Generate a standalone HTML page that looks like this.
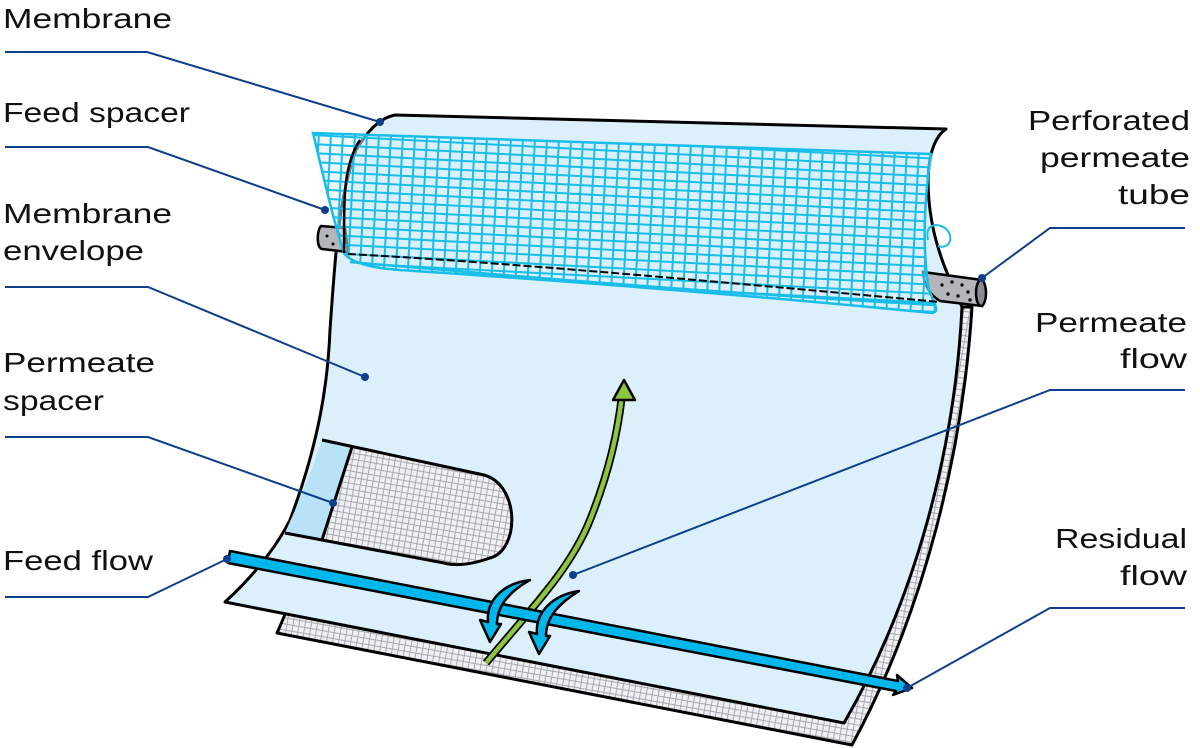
<!DOCTYPE html>
<html><head><meta charset="utf-8"><style>
html,body{margin:0;padding:0;background:#fff}
svg{display:block}
text{font-family:"Liberation Sans",sans-serif;font-size:28px;fill:#111}
</style></head><body>
<svg width="1200" height="748" viewBox="0 0 1200 748" xmlns="http://www.w3.org/2000/svg">
<defs>
<pattern id="gmesh" width="6" height="6" patternUnits="userSpaceOnUse" patternTransform="rotate(10)">
<rect width="6" height="6" fill="#eef0f3"/>
<path d="M0 1H6M1 0V6" stroke="#a9a9ad" stroke-width="1"/>
</pattern>
<pattern id="cmesh" width="12" height="9" patternUnits="userSpaceOnUse" patternTransform="rotate(3)">
<path d="M0 1.5H12M1.5 0V9" stroke="#18bde8" stroke-width="2" fill="none"/>
</pattern>
</defs>

<path d="M972 307 C963 450 925 610 852 745 L277 633 C282 622 286 612 290 602 L850 712 C900 620 940 480 962 307 Z" fill="url(#gmesh)" stroke="#000" stroke-width="3" stroke-linejoin="round"/>

<path d="M395 115 L946 129 C930 140 925 170 930 210 C935 250 950 280 962 307 C955 450 915 600 844 723 L225 602 C260 570 280 540 290 520 C320 440 328 380 330 330 C335 260 338 200 356 150 C368 130 380 118 395 115 Z" fill="#dcf0fc" stroke="#000" stroke-width="3" stroke-linejoin="round"/>

<path d="M322 440 L484 475 C520 485 520 550 490 558 C470 565 455 566 444 563 L322 540 L285 533 C300 500 312 470 322 440 Z" fill="url(#gmesh)"/>
<path d="M322 440 L352 447 L322 540 L285 533 C300 500 312 470 322 440 Z" fill="#b8e3f7"/>
<path d="M322 440 L484 475 C520 485 520 550 490 558 C470 565 455 566 444 563 L322 540 L285 533" fill="none" stroke="#000" stroke-width="3"/>
<path d="M352 447 L322 540" stroke="#000" stroke-width="3"/>

<path d="M321 226 L345 228 L348 252 L322 249 C316 247 317 230 321 226 Z" fill="#b5b6bb" stroke="#000" stroke-width="2.5"/>
<circle cx="327" cy="236" r="1.5"/><circle cx="333" cy="244" r="1.5"/><circle cx="339" cy="234" r="1.5"/>
<path d="M923 272 L982 280 L982 306 L940 301 C930 295 924 285 923 272 Z" fill="#b5b6bb" stroke="#000" stroke-width="2.5"/>
<ellipse cx="981" cy="293" rx="5" ry="13" fill="#8a8b90" stroke="#000" stroke-width="2.5"/>
<g fill="#111"><circle cx="942" cy="285" r="1.7"/><circle cx="952" cy="282" r="1.7"/><circle cx="962" cy="285" r="1.7"/><circle cx="948" cy="294" r="1.7"/><circle cx="958" cy="296" r="1.7"/><circle cx="968" cy="292" r="1.7"/><circle cx="970" cy="300" r="1.7"/></g>

<path d="M313 133 L931 154 C924 200 922 250 929 290 C935 305 940 312 932 313 C800 300 600 283 400 270 C370 268 350 262 344 253 C333 220 322 170 313 133 Z" fill="#dcf0fc" fill-opacity="0.5"/>
<path d="M313 133 L931 154 C924 200 922 250 929 290 C935 305 940 312 932 313 C800 300 600 283 400 270 C370 268 350 262 344 253 C333 220 322 170 313 133 Z" fill="url(#cmesh)" stroke="#18bde8" stroke-width="2.5"/>
<path d="M350 262 C500 275 700 292 935 305" fill="none" stroke="#18bde8" stroke-width="2.5"/>
<path d="M344 253 C345 215 340 170 360 140" fill="none" stroke="#000" stroke-width="2.5"/>
<path d="M348 254 C500 262 700 280 940 302" fill="none" stroke="#000" stroke-width="2" stroke-dasharray="8 3"/>
<path d="M928 240 C925 225 935 222 945 228 C955 236 950 250 938 246" fill="none" stroke="#18bde8" stroke-width="2"/>

<path d="M486 663 C530 610 570 570 590 520 C610 470 618 430 622 395" fill="none" stroke="#000" stroke-width="8"/>
<path d="M486 663 C530 610 570 570 590 520 C610 470 618 430 622 395" fill="none" stroke="#8cc63f" stroke-width="4.5"/>
<path d="M624 380 L635 400 L613 400 Z" fill="#8cc63f" stroke="#000" stroke-width="2.5" stroke-linejoin="round"/>

<path d="M230 551 L898 681 L897 675 L912 688 L893 695 L896 691 L228 563 Z" fill="#00b7eb" stroke="#000" stroke-width="2.5" stroke-linejoin="round"/>

<path d="M530 580 C504 583 486 600 488 622 L480 620 L490 642 L501 624 L497 624 C497 604 512 590 530 580 Z" fill="#00b7eb" stroke="#000" stroke-width="2.5" stroke-linejoin="round"/>
<path d="M579 591 C553 595 535 612 537 634 L529 632 L539 654 L550 636 L546 636 C546 616 561 602 579 591 Z" fill="#00b7eb" stroke="#000" stroke-width="2.5" stroke-linejoin="round"/>

<g fill="none" stroke="#0d3f8a" stroke-width="2">
<path d="M5 52 H147 L380 122"/>
<path d="M5 147 H148 L325 210"/>
<path d="M5 287 H148 L365 377"/>
<path d="M5 437 H148 L333 503"/>
<path d="M5 597 H148 L227 559"/>
<path d="M1185 228 H1050 L982 278"/>
<path d="M1185 390 H1050 L573 575"/>
<path d="M1185 608 H1050 L907 688"/>
</g>
<g fill="#0d3f8a">
<circle cx="380" cy="122" r="4"/><circle cx="325" cy="210" r="4"/><circle cx="365" cy="377" r="4"/><circle cx="333" cy="503" r="4"/><circle cx="227" cy="559" r="4"/><circle cx="982" cy="278" r="4"/><circle cx="573" cy="575" r="4"/><circle cx="907" cy="688" r="4"/>
</g>

<text x="3" y="28" textLength="169" lengthAdjust="spacingAndGlyphs">Membrane</text>
<text x="3" y="122" textLength="187" lengthAdjust="spacingAndGlyphs">Feed spacer</text>
<text x="3" y="223" textLength="169" lengthAdjust="spacingAndGlyphs">Membrane</text>
<text x="3" y="260" textLength="141" lengthAdjust="spacingAndGlyphs">envelope</text>
<text x="3" y="372" textLength="152" lengthAdjust="spacingAndGlyphs">Permeate</text>
<text x="3" y="410" textLength="101" lengthAdjust="spacingAndGlyphs">spacer</text>
<text x="3" y="570" textLength="150" lengthAdjust="spacingAndGlyphs">Feed flow</text>
<text x="1028" y="130" textLength="162" lengthAdjust="spacingAndGlyphs">Perforated</text>
<text x="1040" y="167" textLength="150" lengthAdjust="spacingAndGlyphs">permeate</text>
<text x="1118" y="204" textLength="72" lengthAdjust="spacingAndGlyphs">tube</text>
<text x="1035" y="332" textLength="152" lengthAdjust="spacingAndGlyphs">Permeate</text>
<text x="1120" y="368" textLength="67" lengthAdjust="spacingAndGlyphs">flow</text>
<text x="1055" y="548" textLength="132" lengthAdjust="spacingAndGlyphs">Residual</text>
<text x="1120" y="585" textLength="67" lengthAdjust="spacingAndGlyphs">flow</text>
</svg>
</body></html>
